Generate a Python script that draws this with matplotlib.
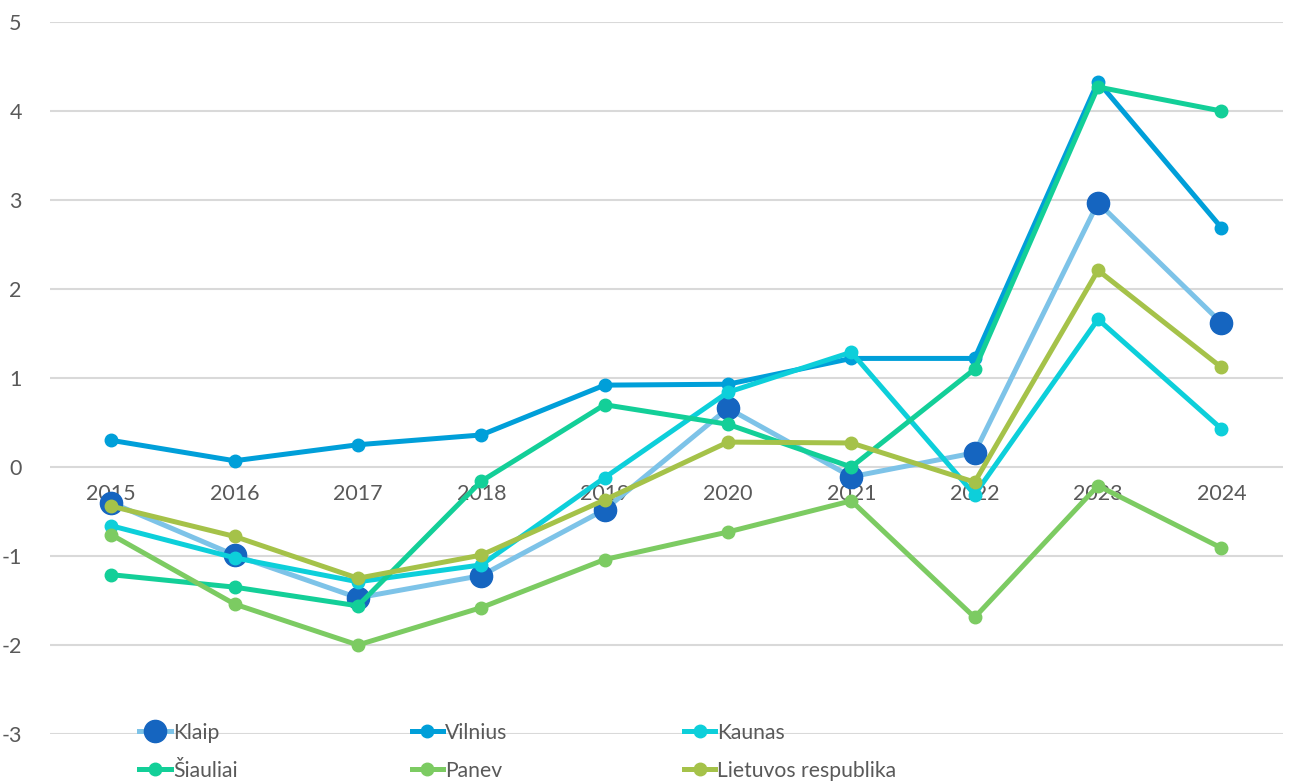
import matplotlib.pyplot as plt

years = ["2015", "2016", "2017", "2018", "2019", "2020", "2021", "2022", "2023", "2024"]

klaip = [-0.40, -0.99, -1.47, -1.22, -0.48, 0.66, -0.11, 0.16, 2.97, 1.62]
vilnius = [0.30, 0.07, 0.25, 0.36, 0.92, 0.93, 1.22, 1.22, 4.33, 2.69]
kaunas = [-0.66, -1.02, -1.29, -1.10, -0.12, 0.84, 1.29, -0.31, 1.66, 0.43]
siauliai = [-1.21, -1.35, -1.56, -0.16, 0.70, 0.48, 0.00, 1.10, 4.27, 4.00]
panev = [-0.76, -1.54, -2.00, -1.58, -1.04, -0.73, -0.38, -1.69, -0.21, -0.91]
lietuva = [-0.44, -0.78, -1.25, -0.99, -0.37, 0.28, 0.27, -0.17, 2.21, 1.12]

text_col = "#595959"
plt.rcParams["font.family"] = ["Lato", "DejaVu Sans"]
plt.rcParams["axes.unicode_minus"] = False

fig = plt.figure(figsize=(12.9, 7.81), dpi=100)
ax = fig.add_axes([0.0384, 0.0602, 0.9562, 0.9116])

x = list(range(len(years)))
lw = 3.6
h1, = ax.plot(x, klaip, color="#7DC3E8", lw=lw, marker="o", ms=16,
              mfc="#1565C0", mec="#1565C0", label="Klaip")
h2, = ax.plot(x, vilnius, color="#009FD9", lw=lw, marker="o", ms=9, label="Vilnius")
h3, = ax.plot(x, kaunas, color="#0DCFDA", lw=lw, marker="o", ms=9, label="Kaunas")
h4, = ax.plot(x, siauliai, color="#13CF98", lw=lw, marker="o", ms=9, label="Šiauliai")
h5, = ax.plot(x, panev, color="#7CCB62", lw=lw, marker="o", ms=9, label="Panev")
h6, = ax.plot(x, lietuva, color="#A5C249", lw=lw, marker="o", ms=9,
              label="Lietuvos respublika")

ax.set_xlim(-0.5, len(years) - 0.5)
ax.set_ylim(-3, 5)
ax.set_yticks(range(-3, 6))
ax.grid(axis="y", color="#D9D9D9", lw=1.5)
ax.set_axisbelow(True)
for s in ax.spines.values():
    s.set_visible(False)

# year labels sit just under the zero line
ax.set_xticks(x)
ax.set_xticklabels(years)
ax.spines["bottom"].set_position(("data", 0))
ax.tick_params(axis="x", length=0, pad=12, labelsize=15.5, labelcolor=text_col)
ax.tick_params(axis="y", length=0, pad=20, labelsize=15.5, labelcolor=text_col)

# three legend columns, evenly spaced
cols = [(h1, h4), (h2, h5), (h3, h6)]
for i, hs in enumerate(cols):
    fig.legend(handles=list(hs), loc="upper left",
               bbox_to_anchor=(0.108 + i * 0.211, 0.0745), ncol=1,
               frameon=False, fontsize=15.2, labelcolor=text_col,
               handlelength=1.5, handletextpad=0.1,
               labelspacing=0.85, borderaxespad=0, borderpad=0)

fig.savefig("out.png", dpi=100)
